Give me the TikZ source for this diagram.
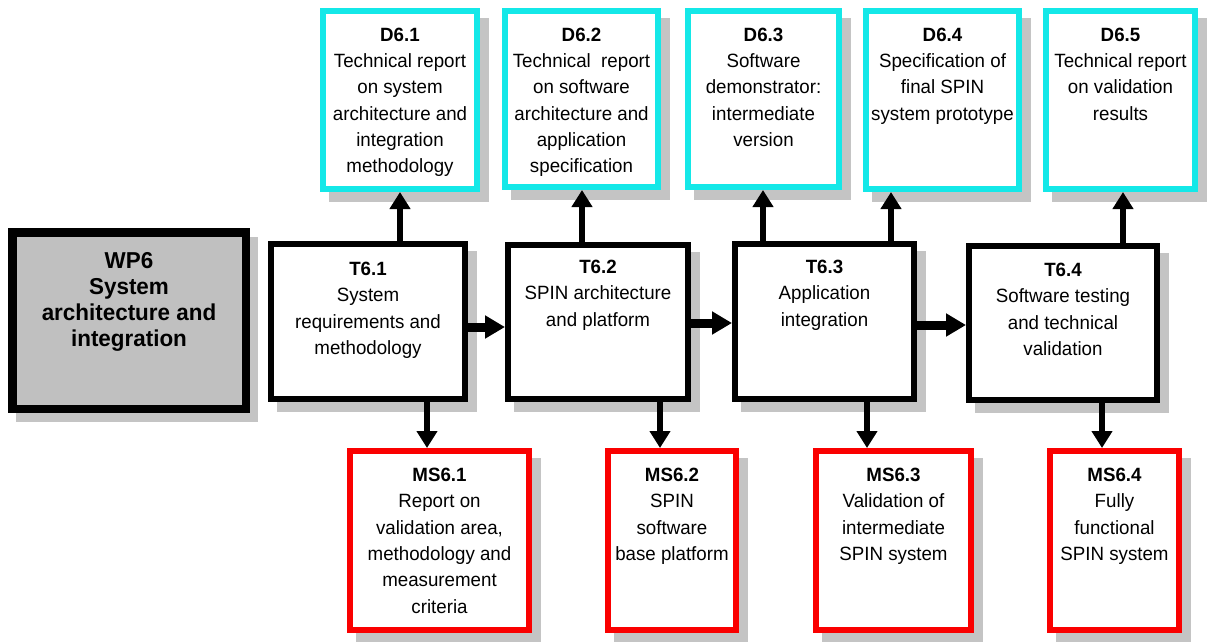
\documentclass[tikz,border=0pt]{standalone}
\usepackage{fontspec}
\setmainfont[FakeStretch=0.975]{Liberation Sans}
\usetikzlibrary{arrows.meta,backgrounds}

\definecolor{dcyan}{RGB}{20,232,232}
\definecolor{msred}{RGB}{250,0,0}
\definecolor{wpgray}{RGB}{192,192,192}
\definecolor{shadowgray}{RGB}{196,196,196}

\tikzset{
  boxbase/.style={inner sep=0pt, fill=white, line width=6pt},
  dbox/.style={boxbase, draw=dcyan},
  tbox/.style={boxbase, draw=black},
  msbox/.style={boxbase, draw=msred},
  wpbox/.style={inner sep=0pt, draw=black, fill=wpgray, line width=8.5pt},
  txt/.style={anchor=north, inner sep=0pt, align=center,
              font=\fontsize{19.2}{26.3}\selectfont},
  wptxt/.style={anchor=north, inner sep=0pt, align=center,
              font=\fontsize{23}{26}\selectfont\bfseries},
  varr/.style={line width=6pt, -{Triangle[length=17pt,width=20pt]}},
  harr/.style={line width=9pt, -{Triangle[length=20pt,width=22pt]}},
  shade box/.style={fill=shadowgray}
}

\begin{document}
\begin{tikzpicture}[x=1pt,y=-1pt]
\useasboundingbox (0,0) rectangle (1208,641);

% work package
\node[wpbox, minimum width=233.5pt, minimum height=176.5pt] (WP6) at (129,320.5) {};
\node[wptxt] (WP6t) at (129,252) {WP6\\System\\architecture and\\integration};

% deliverables
\node[dbox, minimum width=154pt, minimum height=178pt] (D61) at (400,100) {};
\node[dbox, minimum width=153pt, minimum height=176pt] (D62) at (581.5,99) {};
\node[dbox, minimum width=151pt, minimum height=176pt] (D63) at (763.5,99) {};
\node[dbox, minimum width=153pt, minimum height=178pt] (D64) at (942.5,100) {};
\node[dbox, minimum width=149pt, minimum height=178pt] (D65) at (1120.5,100) {};

\node[txt] (D61t) at (400,27.5) {\textbf{D6.1}\\Technical report\\on system\\architecture and\\integration\\methodology};
\node[txt] (D62t) at (581.5,27.5) {\textbf{D6.2}\\Technical\ \ report\\on software\\architecture and\\application\\specification};
\node[txt] (D63t) at (763.5,27.5) {\textbf{D6.3}\\Software\\demonstrator:\\intermediate\\version};
\node[txt] (D64t) at (942.5,27.5) {\textbf{D6.4}\\Specification of\\final SPIN\\system prototype};
\node[txt] (D65t) at (1120.5,27.5) {\textbf{D6.5}\\Technical report\\on validation\\results};

% tasks
\node[tbox, minimum width=194pt, minimum height=155pt] (T61) at (368,321.5) {};
\node[tbox, minimum width=180pt, minimum height=154pt] (T62) at (598,322) {};
\node[tbox, minimum width=179pt, minimum height=155pt] (T63) at (824.5,321.5) {};
\node[tbox, minimum width=188pt, minimum height=154pt] (T64) at (1063,323) {};

\node[txt] (T61t) at (368,262) {\textbf{T6.1}\\System\\requirements and\\methodology};
\node[txt] (T62t) at (598,260) {\textbf{T6.2}\\SPIN architecture\\and platform};
\node[txt] (T63t) at (824.5,260) {\textbf{T6.3}\\Application\\integration};
\node[txt] (T64t) at (1063,263) {\textbf{T6.4}\\Software testing\\and technical\\validation};

% milestones
\node[msbox, minimum width=179pt, minimum height=179pt] (MS61) at (439.5,540.5) {};
\node[msbox, minimum width=128pt, minimum height=179pt] (MS62) at (672,540.5) {};
\node[msbox, minimum width=155pt, minimum height=179pt] (MS63) at (893.5,540.5) {};
\node[msbox, minimum width=129pt, minimum height=179pt] (MS64) at (1114.5,540.5) {};

\node[txt] (MS61t) at (439.5,468) {\textbf{MS6.1}\\Report on\\validation area,\\methodology and\\measurement\\criteria};
\node[txt] (MS62t) at (672,468) {\textbf{MS6.2}\\SPIN\\software\\base platform};
\node[txt] (MS63t) at (893.5,468) {\textbf{MS6.3}\\Validation of\\intermediate\\SPIN system};
\node[txt] (MS64t) at (1114.5,468) {\textbf{MS6.4}\\Fully\\functional\\SPIN system};

% drop shadows and page background
\begin{pgfonlayer}{background}
  \fill[white] (0,0) rectangle (1208,641);
  \fill[shade box] ([shift={(8,9)}]WP6.north west) rectangle ([shift={(8,9)}]WP6.south east);
  \foreach \b in {D61,D62,D63,D64,D65,T61,T62,T63,T64,MS61,MS62,MS63,MS64}
    \fill[shade box] ([shift={(9,10)}]\b.north west) rectangle ([shift={(9,10)}]\b.south east);
\end{pgfonlayer}

% connector positions
\coordinate (xD61) at (400,0);
\coordinate (xD62) at (582,0);
\coordinate (xD63) at (763,0);
\coordinate (xD64) at (891,0);
\coordinate (xD65) at (1123,0);
\coordinate (xM61) at (427,0);
\coordinate (xM62) at (660,0);
\coordinate (xM63) at (867,0);
\coordinate (xM64) at (1102,0);
\coordinate (yA) at (0,327);
\coordinate (yB) at (0,323);
\coordinate (yC) at (0,325);

% tasks to deliverables
\draw[varr] (T61.north -| xD61) -- (D61.south -| xD61);
\draw[varr] (T62.north -| xD62) -- (D62.south -| xD62);
\draw[varr] (T63.north -| xD63) -- (D63.south -| xD63);
\draw[varr] (T63.north -| xD64) -- (D64.south -| xD64);
\draw[varr] (T64.north -| xD65) -- (D65.south -| xD65);

% tasks to milestones
\draw[varr] (T61.south -| xM61) -- (MS61.north -| xM61);
\draw[varr] (T62.south -| xM62) -- (MS62.north -| xM62);
\draw[varr] (T63.south -| xM63) -- (MS63.north -| xM63);
\draw[varr] (T64.south -| xM64) -- (MS64.north -| xM64);

% task sequence
\draw[harr] (T61.east |- yA) -- (T62.west |- yA);
\draw[harr] (T62.east |- yB) -- (T63.west |- yB);
\draw[harr] (T63.east |- yC) -- (T64.west |- yC);
\end{tikzpicture}
\end{document}
